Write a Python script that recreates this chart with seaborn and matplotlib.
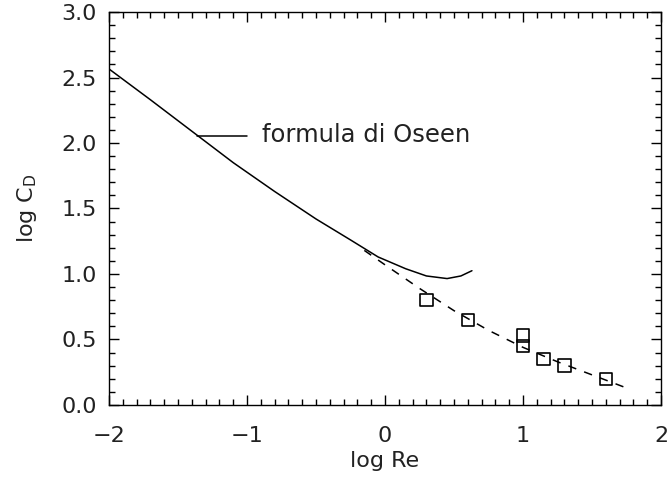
import matplotlib
matplotlib.use("Agg")
import matplotlib.pyplot as plt
from matplotlib.ticker import MultipleLocator
import seaborn as sns
import pandas as pd

# Oseen drag formula (solid curve)
oseen_log_re = [-2.0, -1.7, -1.4, -1.1, -0.8, -0.5, -0.25, -0.05, 0.15, 0.3, 0.45, 0.55, 0.63]
oseen_log_cd = [2.565, 2.33, 2.09, 1.85, 1.63, 1.42, 1.26, 1.13, 1.04, 0.985, 0.965, 0.985, 1.025]

# Reference drag curve (dashed)
ref_log_re = [-0.15, 0.0, 0.25, 0.5, 0.75, 1.0, 1.25, 1.5, 1.75]
ref_log_cd = [1.18, 1.07, 0.89, 0.72, 0.57, 0.44, 0.33, 0.23, 0.13]

# Measured drag coefficients (open squares)
meas_log_re = [0.3, 0.6, 1.0, 1.0, 1.15, 1.3, 1.6]
meas_log_cd = [0.80, 0.65, 0.53, 0.45, 0.35, 0.30, 0.20]

x_ticks = [-2, -1, 0, 1, 2]
y_ticks = [0.0, 0.5, 1.0, 1.5, 2.0, 2.5, 3.0]

sns.set_theme(style="white")
plt.rcParams["font.family"] = ["DejaVu Sans"]
plt.rcParams["mathtext.default"] = "regular"

fig = plt.figure(figsize=(6.69, 4.86), dpi=100)
ax = fig.add_axes([0.163, 0.1667, 0.825, 0.8086])

oseen = pd.DataFrame({"x": oseen_log_re, "y": oseen_log_cd})
ref = pd.DataFrame({"x": ref_log_re, "y": ref_log_cd})
meas = pd.DataFrame({"x": meas_log_re, "y": meas_log_cd})

sns.lineplot(data=oseen, x="x", y="y", ax=ax, color="black", lw=1.1, sort=False)
sns.lineplot(data=ref, x="x", y="y", ax=ax, color="black", lw=1.1, sort=False,
             dashes=False, linestyle=(0, (5.5, 5.5)))
sns.scatterplot(data=meas, x="x", y="y", ax=ax, marker="s", s=80,
                facecolor="none", edgecolor="black", linewidth=1.2, zorder=3)

# label for the Oseen curve
ax.plot([-1.362, -1.0], [2.053, 2.053], color="black", lw=1.1)
ax.text(-0.89, 2.06, "formula di Oseen", fontsize=17.5, va="center", ha="left",
        color="#222222")

ax.set_xlim(-2, 2)
ax.set_ylim(0, 3)
ax.set_xticks(x_ticks)
ax.set_xticklabels([str(t).replace("-", "\u2212") for t in x_ticks])
ax.set_yticks(y_ticks)
ax.set_yticklabels([f"{t:.1f}" for t in y_ticks])
ax.xaxis.set_minor_locator(MultipleLocator(0.1))
ax.yaxis.set_minor_locator(MultipleLocator(0.1))
ax.tick_params(which="both", direction="in", top=True, right=True,
               bottom=True, left=True, color="black", width=1.0)
ax.tick_params(which="major", length=7.5, labelsize=16, labelcolor="#222222")
ax.tick_params(axis="x", which="major", pad=15)
ax.tick_params(axis="y", which="major", pad=9)
ax.tick_params(which="minor", length=4)
for s in ax.spines.values():
    s.set_color("black")
    s.set_linewidth(1.0)

ax.set_xlabel("log Re", fontsize=16, color="#222222", labelpad=4)
ax.set_ylabel("log C$_\\mathregular{D}$", fontsize=16, color="#222222", labelpad=16)

fig.savefig("out.png", dpi=100)
